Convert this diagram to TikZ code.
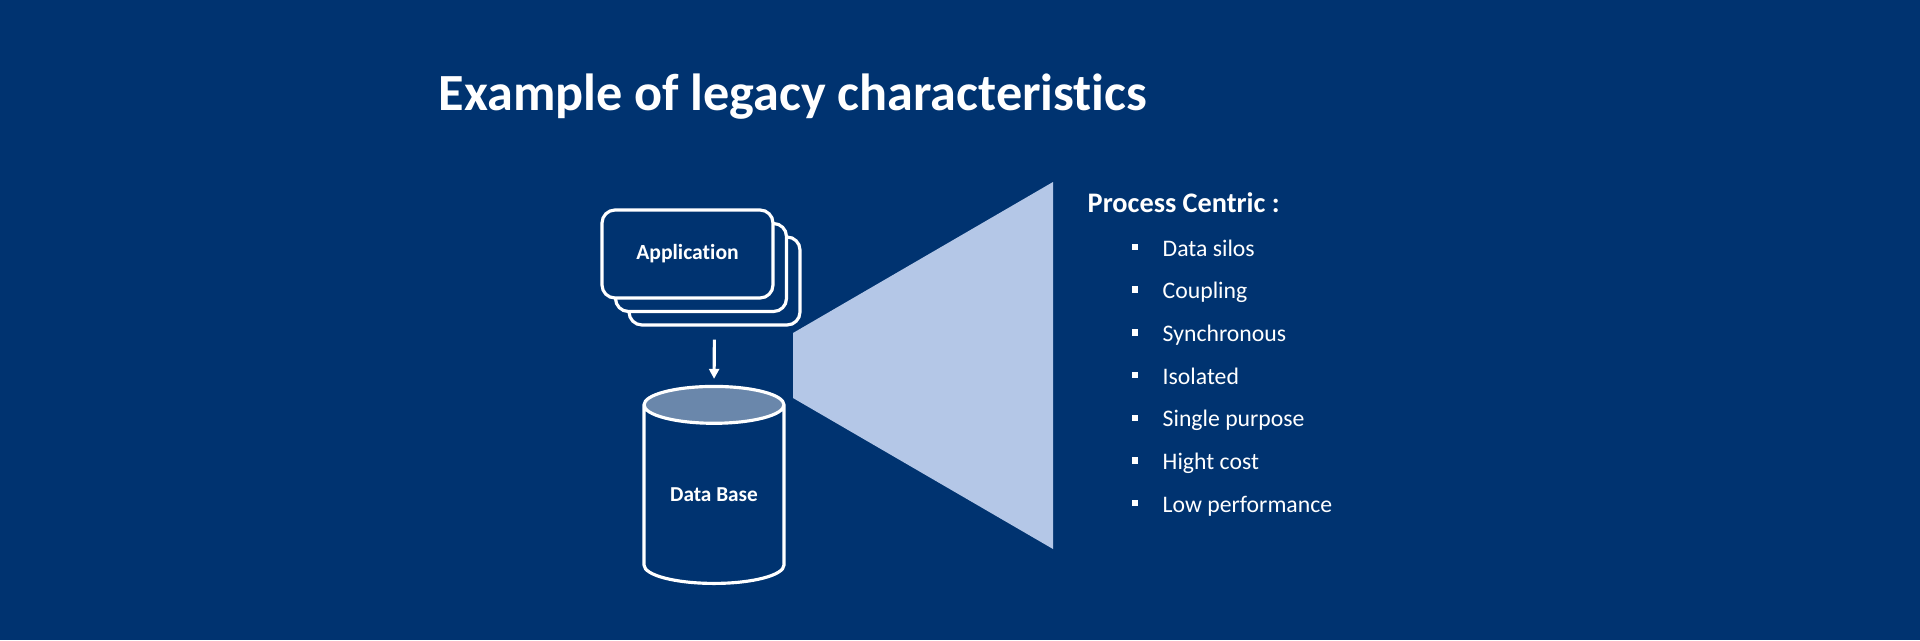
\documentclass[tikz,border=0pt]{standalone}
\usepackage{fontspec}
\setmainfont[Ligatures=NoCommon]{Carlito}
\usepackage{xcolor}
\usepackage{tikz}
\usetikzlibrary{positioning,arrows.meta,shapes.geometric}

\definecolor{bgblue}{HTML}{003370}
\definecolor{funnel}{HTML}{B4C7E7}
\definecolor{dbtop}{HTML}{6A87AB}

\begin{document}
\begin{tikzpicture}[
  app/.style={draw=white, fill=bgblue, line width=0.9pt, rounded corners=1.3mm, minimum width=1.71cm, minimum height=0.88cm, inner sep=0pt, font=\fontsize{6.15}{7}\selectfont\bfseries, text=white},
  db/.style={cylinder, shape border rotate=90, draw=white, line width=0.9pt, aspect=0.42, minimum width=1.4cm, minimum height=1.97cm, inner sep=0pt, cylinder uses custom fill, cylinder end fill=dbtop, cylinder body fill=bgblue, font=\fontsize{6.05}{7}\selectfont\bfseries, text=white},
  item/.style={anchor=base west, inner sep=0pt, text=white, font=\fontsize{6.75}{8}\selectfont},
  bul/.style={fill=white, minimum size=0.65mm, inner sep=0pt},
  arr/.style={-{Triangle[length=1mm, width=1mm]}, white, line width=0.9pt}
]

% Background
\fill[bgblue] (0,0) rectangle (19.2,6.4);

% Title
\node[anchor=base west, inner sep=0pt, text=white, font=\fontsize{14.85}{17}\selectfont\bfseries] (title) at (4.38,5.30) {Example of legacy characteristics};

% Application stack
\node[app] (app3) at (7.145,3.59) {};
\node[app] (app2) at (7.01,3.725) {};
\node[app] (app1) at (6.875,3.86) {Application};

% Data base
\node[db, anchor=south] (base) at (7.14,0.55) {Data Base};

\draw[arr, shorten <=1.3mm, shorten >=0.6mm] (app3.south) -- (base.north);

% Funnel
\fill[funnel] (7.93,3.07) -- (10.53,4.58) -- (10.53,0.91) -- (7.93,2.42) -- cycle;

% Characteristics
\node[anchor=base west, inner sep=0pt, text=white, font=\fontsize{8.05}{9}\selectfont\bfseries] (head) at (10.87,4.28) {Process Centric :};
\foreach \txt [count=\i] in {Data silos, Coupling, Synchronous, Isolated, Single purpose, Hight cost, Low performance} {
  \node[item] (it\i) at (11.62,{3.84-0.427*(\i-1)}) {\txt};
  \node[bul] (b\i) at (11.35,{3.93-0.427*(\i-1)}) {};
}

\end{tikzpicture}
\end{document}
